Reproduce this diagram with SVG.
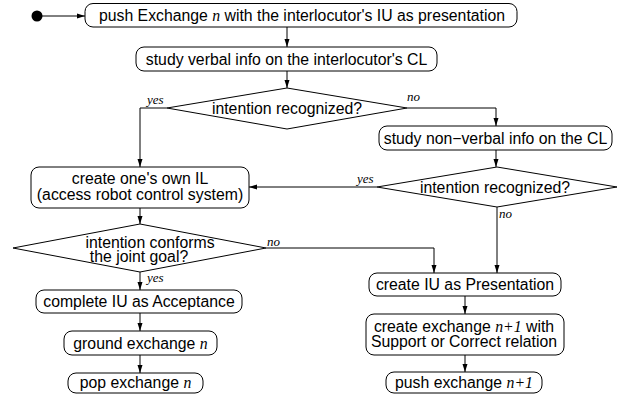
<svg xmlns="http://www.w3.org/2000/svg" width="624" height="398" viewBox="0 0 624 398">
  <defs>
    <marker id="arrow" markerWidth="8" markerHeight="6" refX="8" refY="3" orient="auto" markerUnits="userSpaceOnUse">
      <path d="M0,0.5 L8,3 L0,5.5 Z" fill="#000"/>
    </marker>
    <style>
      .box { fill: #fff; stroke: #000; stroke-width: 1; }
      .dia { fill: #fff; stroke: #000; stroke-width: 1; }
      .t { font-family: "Liberation Sans", Arial, sans-serif; font-size: 15.8px; fill: #000; text-anchor: middle; }
      .v { font-family: "Liberation Serif", "Times New Roman", serif; font-style: italic; }
      .lbl { font-family: "Liberation Serif", "Times New Roman", serif; font-style: italic; font-size: 13px; fill: #000; }
      .edge { fill: none; stroke: #000; stroke-width: 1; marker-end: url(#arrow); }
    </style>
  </defs>
  <rect width="624" height="398" fill="#fff"/>

  <!-- connectors -->
  <g id="connectors">
    <path class="edge" d="M42,16 H85"/>
    <path class="edge" d="M287,27 V47"/>
    <path class="edge" d="M287,71 V88"/>
    <path class="edge" d="M167,108 H140 V167"/>
    <path class="edge" d="M407,108 H496 V126"/>
    <path class="edge" d="M496,150 V167"/>
    <path class="edge" d="M377,187 H249"/>
    <path class="edge" d="M497,207 V273"/>
    <path class="edge" d="M140,208 V224"/>
    <path class="edge" d="M266,248 H434 V273"/>
    <path class="edge" d="M140,272 V290"/>
    <path class="edge" d="M140,313 V331"/>
    <path class="edge" d="M140,355 V373"/>
    <path class="edge" d="M465,296 V314"/>
    <path class="edge" d="M465,355 V372"/>
    <text class="lbl" x="147" y="104">yes</text>
    <text class="lbl" x="407" y="101">no</text>
    <text class="lbl" x="357" y="183">yes</text>
    <text class="lbl" x="499" y="218">no</text>
    <text class="lbl" x="267" y="246">no</text>
    <text class="lbl" x="147" y="282">yes</text>
  </g>

  <g id="start">
    <circle cx="37" cy="16" r="5.5" fill="#000"/>
  </g>

  <g id="push-exchange">
    <rect class="box" x="85" y="3.5" width="432" height="23.5" rx="8"/>
    <text class="t" x="302" y="20.5">push Exchange <tspan class="v">n</tspan>  with the interlocutor's IU as presentation</text>
  </g>

  <g id="study-verbal">
    <rect class="box" x="136" y="47" width="301" height="24" rx="8"/>
    <text class="t" x="286.5" y="64.5">study verbal info on the interlocutor's CL</text>
  </g>

  <g id="decision-1">
    <polygon class="dia" points="287,88 407,108 287,129 167,108"/>
    <text class="t" x="287" y="114">intention recognized?</text>
  </g>

  <g id="study-nonverbal">
    <rect class="box" x="379" y="126" width="233" height="24" rx="8"/>
    <text class="t" x="495.5" y="143.5">study non−verbal info on the CL</text>
  </g>

  <g id="decision-2">
    <polygon class="dia" points="497,167 617,187 497,207 377,187"/>
    <text class="t" x="495" y="193">intention recognized?</text>
  </g>

  <g id="create-il">
    <rect class="box" x="31" y="167" width="218" height="41" rx="8"/>
    <text class="t" x="140" y="184">create one's own IL</text>
    <text class="t" x="140" y="200">(access robot control system)</text>
  </g>

  <g id="decision-3">
    <polygon class="dia" points="140,224 266,248 140,272 13,248"/>
    <text class="t" x="150" y="247.5">intention conforms</text>
    <text class="t" x="139" y="262">the joint goal?</text>
  </g>

  <g id="complete-iu">
    <rect class="box" x="36" y="290" width="206" height="23" rx="8"/>
    <text class="t" x="139" y="307">complete IU as Acceptance</text>
  </g>

  <g id="ground-exchange">
    <rect class="box" x="64" y="331" width="153" height="24" rx="8"/>
    <text class="t" x="140.5" y="348.5">ground exchange <tspan class="v">n</tspan></text>
  </g>

  <g id="pop-exchange">
    <rect class="box" x="68" y="373" width="135" height="20" rx="8"/>
    <text class="t" x="135.5" y="388">pop exchange <tspan class="v">n</tspan></text>
  </g>

  <g id="create-presentation">
    <rect class="box" x="369" y="273" width="192" height="23" rx="8"/>
    <text class="t" x="465" y="290">create IU as Presentation</text>
  </g>

  <g id="create-exchange">
    <rect class="box" x="366" y="314" width="198" height="41" rx="8"/>
    <text class="t" x="464" y="331.5">create exchange <tspan class="v">n+1</tspan> with</text>
    <text class="t" x="464" y="347">Support or Correct relation</text>
  </g>

  <g id="push-next">
    <rect class="box" x="386" y="372" width="156" height="21" rx="8"/>
    <text class="t" x="464" y="387.5">push exchange <tspan class="v">n+1</tspan></text>
  </g>
</svg>
